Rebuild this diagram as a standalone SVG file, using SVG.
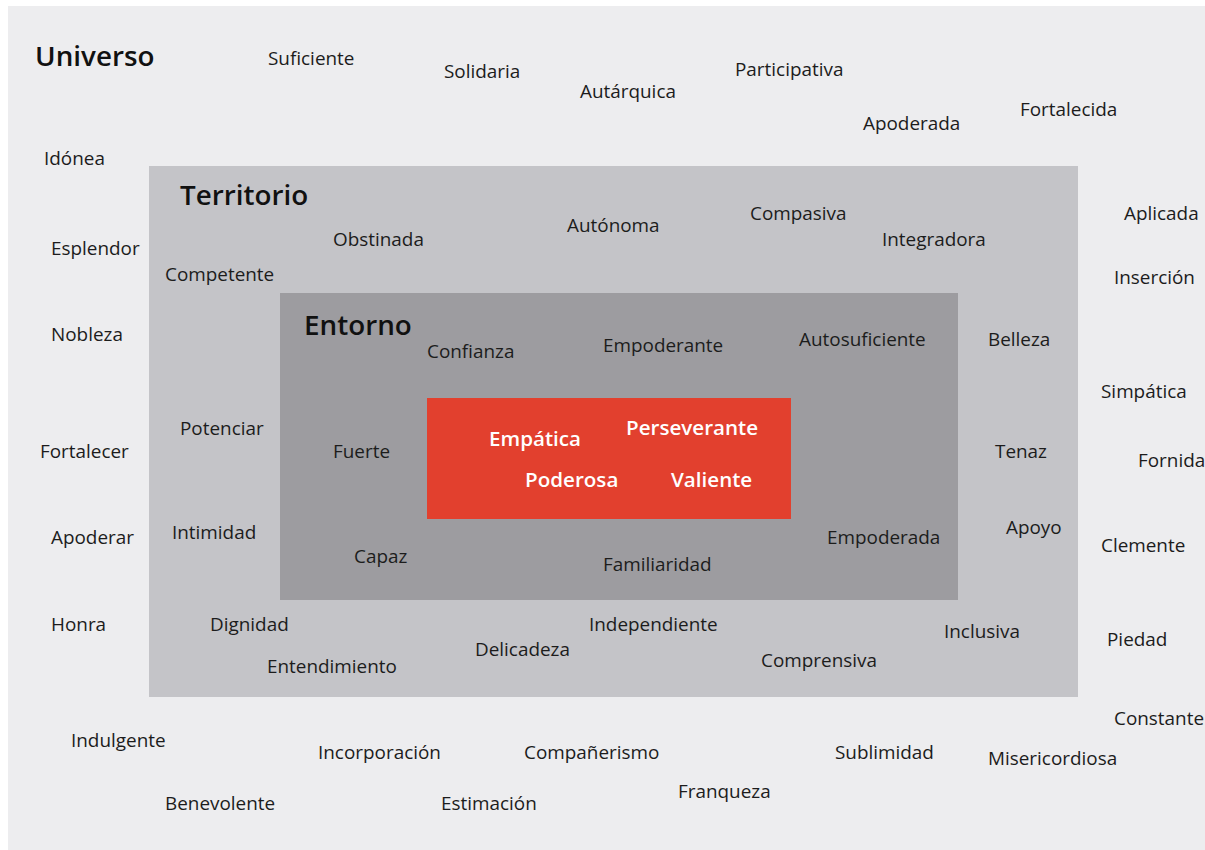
<svg xmlns="http://www.w3.org/2000/svg" width="1205" height="850" viewBox="0 0 1205 850">
<style>
.w{font-family:"Open Sans","Noto Sans","Liberation Sans",sans-serif;font-size:18.9px;fill:#1c1c1c}
.h{font-family:"Open Sans","Noto Sans","Liberation Sans",sans-serif;font-size:27.8px;font-weight:600;fill:#111}
.c{font-family:"Open Sans","Noto Sans","Liberation Sans",sans-serif;font-size:20.6px;font-weight:600;fill:#fff}
</style>
<rect width="1205" height="850" fill="#ffffff"/>
<rect x="8" y="6" width="1197" height="844" fill="#ededef"/>
<g id="territorio"><rect x="149" y="166" width="929" height="531" fill="#c4c4c8"/></g>
<g id="entorno"><rect x="280" y="293" width="678" height="307" fill="#9d9ca0"/></g>
<g id="nucleo"><rect x="427" y="398" width="364" height="121" fill="#e2402e"/></g>
<g id="connectors"></g>
<g id="titulos">
<text class="h" x="35" y="66">Universo</text>
<text class="h" x="180" y="205">Territorio</text>
<text class="h" x="304" y="335">Entorno</text>
</g>
<g id="centro">
<text class="c" x="489" y="446">Empática</text>
<text class="c" x="626" y="435">Perseverante</text>
<text class="c" x="525" y="487">Poderosa</text>
<text class="c" x="671" y="487">Valiente</text>
</g>
<g id="palabras">
<text class="w" x="268" y="65">Suficiente</text>
<text class="w" x="444" y="78">Solidaria</text>
<text class="w" x="580" y="98">Autárquica</text>
<text class="w" x="735" y="76">Participativa</text>
<text class="w" x="863" y="130">Apoderada</text>
<text class="w" x="1020" y="116">Fortalecida</text>
<text class="w" x="44" y="165">Idónea</text>
<text class="w" x="333" y="246">Obstinada</text>
<text class="w" x="567" y="232">Autónoma</text>
<text class="w" x="750" y="220">Compasiva</text>
<text class="w" x="882" y="246">Integradora</text>
<text class="w" x="1124" y="220">Aplicada</text>
<text class="w" x="51" y="255">Esplendor</text>
<text class="w" x="165" y="281">Competente</text>
<text class="w" x="1114" y="284">Inserción</text>
<text class="w" x="427" y="358">Confianza</text>
<text class="w" x="603" y="352">Empoderante</text>
<text class="w" x="799" y="346">Autosuficiente</text>
<text class="w" x="988" y="346">Belleza</text>
<text class="w" x="51" y="341">Nobleza</text>
<text class="w" x="1101" y="398">Simpática</text>
<text class="w" x="180" y="435">Potenciar</text>
<text class="w" x="40" y="458">Fortalecer</text>
<text class="w" x="333" y="458">Fuerte</text>
<text class="w" x="995" y="458">Tenaz</text>
<text class="w" x="1138" y="467">Fornida</text>
<text class="w" x="172" y="539">Intimidad</text>
<text class="w" x="51" y="544">Apoderar</text>
<text class="w" x="354" y="563">Capaz</text>
<text class="w" x="603" y="571">Familiaridad</text>
<text class="w" x="827" y="544">Empoderada</text>
<text class="w" x="1006" y="534">Apoyo</text>
<text class="w" x="1101" y="552">Clemente</text>
<text class="w" x="51" y="631">Honra</text>
<text class="w" x="210" y="631">Dignidad</text>
<text class="w" x="589" y="631">Independiente</text>
<text class="w" x="944" y="638">Inclusiva</text>
<text class="w" x="1107" y="646">Piedad</text>
<text class="w" x="475" y="656">Delicadeza</text>
<text class="w" x="761" y="667">Comprensiva</text>
<text class="w" x="267" y="673">Entendimiento</text>
<text class="w" x="1114" y="725">Constante</text>
<text class="w" x="71" y="747">Indulgente</text>
<text class="w" x="318" y="759">Incorporación</text>
<text class="w" x="524" y="759">Compañerismo</text>
<text class="w" x="835" y="759">Sublimidad</text>
<text class="w" x="988" y="765">Misericordiosa</text>
<text class="w" x="165" y="810">Benevolente</text>
<text class="w" x="441" y="810">Estimación</text>
<text class="w" x="678" y="798">Franqueza</text>
</g>
</svg>
